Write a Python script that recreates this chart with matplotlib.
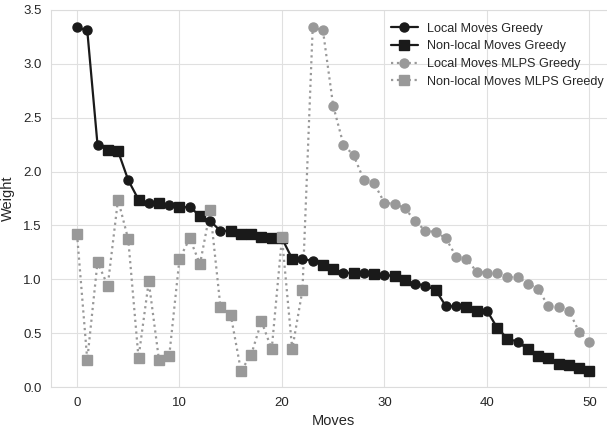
import matplotlib
matplotlib.use("Agg")
import matplotlib.pyplot as plt
from matplotlib.lines import Line2D
import seaborn as sns

# greedy run: weight after each move, and the kind of each move (L = local, N = non-local)
greedy_w = [3.34, 3.31, 2.25, 2.20, 2.19, 1.92, 1.74, 1.71, 1.71, 1.69,
            1.67, 1.67, 1.59, 1.54, 1.45, 1.45, 1.42, 1.42, 1.39, 1.38,
            1.38, 1.19, 1.19, 1.17, 1.13, 1.10, 1.06, 1.06, 1.06, 1.05,
            1.04, 1.03, 0.99, 0.96, 0.94, 0.90, 0.75, 0.75, 0.74, 0.71,
            0.71, 0.55, 0.45, 0.42, 0.35, 0.29, 0.27, 0.21, 0.20, 0.18, 0.15]
greedy_kind = "LLLNNLNLNLNLNLLNNNNNNNLLNNLNLNLNNLLNLLNNLNNLNNNNNNN"

# MLPS greedy run
mlps_w = [1.42, 0.25, 1.16, 0.94, 1.74, 1.37, 0.27, 0.98, 0.25, 0.29,
          1.19, 1.38, 1.14, 1.64, 0.74, 0.67, 0.15, 0.30, 0.61, 0.35,
          1.39, 0.35, 0.90, 3.34, 3.31, 2.61, 2.25, 2.15, 1.92, 1.89,
          1.71, 1.70, 1.66, 1.54, 1.45, 1.44, 1.38, 1.21, 1.19, 1.07,
          1.06, 1.06, 1.02, 1.02, 0.96, 0.91, 0.75, 0.745, 0.71, 0.51, 0.42]
mlps_kind = "N" * 23 + "L" * 28

sns.set_style("whitegrid", {"grid.color": "#e0e0e0", "axes.edgecolor": "#dcdcdc"})
plt.rcParams['font.family'] = ['Liberation Sans', 'DejaVu Sans']

fig, ax = plt.subplots(figsize=(6.07, 4.29), dpi=100)
# the plot area runs a little past the right edge of the picture
fig.subplots_adjust(left=51.4/607, right=615/607, top=1-10/429, bottom=1-387/429)

black = "#1a1a1a"
grey = "#999999"
ms = 6.5

def draw(w, kind, color, ls, lw):
    x = list(range(len(w)))
    ax.plot(x, w, color=color, linestyle=ls, linewidth=lw, zorder=2)
    xl = [i for i in x if kind[i] == "L"]
    xn = [i for i in x if kind[i] == "N"]
    ax.plot(xl, [w[i] for i in xl], "o", color=color, markersize=ms, zorder=3)
    ax.plot(xn, [w[i] for i in xn], "s", color=color, markersize=ms, zorder=3)

draw(greedy_w, greedy_kind, black, "-", 1.6)
draw(mlps_w, mlps_kind, grey, ":", 1.6)

handles = [
    Line2D([], [], color=black, linestyle="-", lw=1.6, marker="o", markersize=ms),
    Line2D([], [], color=black, linestyle="-", lw=1.6, marker="s", markersize=ms),
    Line2D([], [], color=grey, linestyle=":", lw=1.6, marker="o", markersize=ms),
    Line2D([], [], color=grey, linestyle=":", lw=1.6, marker="s", markersize=ms),
]
labels = ["Local Moves Greedy", "Non-local Moves Greedy",
          "Local Moves MLPS Greedy", "Non-local Moves MLPS Greedy"]
ax.legend(handles, labels, loc="upper left", bbox_to_anchor=(0.586, 0.99),
          frameon=False, fontsize=9.1, handlelength=2.2, labelspacing=0.45,
          handletextpad=0.7, borderaxespad=0.3)

ax.set_xlim(-2.5, 52.5)
ax.set_ylim(0, 3.5)
ax.set_xlabel("Moves", fontsize=10.5)
ax.set_ylabel("Weight", fontsize=10.5, labelpad=6)
ax.tick_params(labelsize=9.5)

fig.savefig("out.png", dpi=100)
